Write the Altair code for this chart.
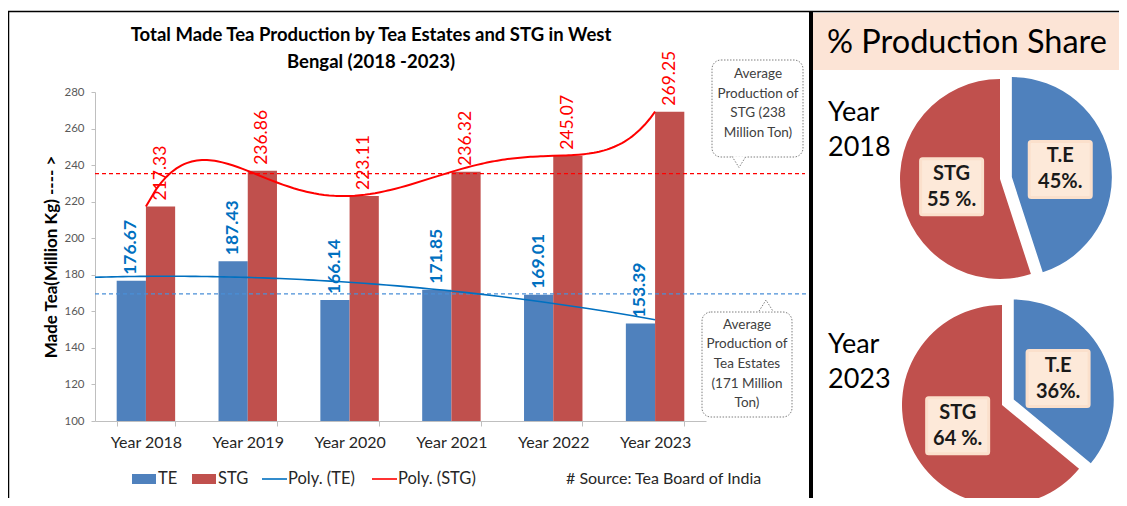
import math
import altair as alt
import pandas as pd

# ---------------- data ----------------
years = ["Year 2018", "Year 2019", "Year 2020", "Year 2021", "Year 2022", "Year 2023"]
te_values = [176.67, 187.43, 166.14, 171.85, 169.01, 153.39]
stg_values = [217.33, 236.86, 223.11, 236.32, 245.07, 269.25]
series_names = ["TE", "STG"]
avg_te_line = 169.6
avg_stg_line = 235.3
y_ticks = [100, 120, 140, 160, 180, 200, 220, 240, 260, 280]
legend_names = ["TE", "STG", "Poly. (TE)", "Poly. (STG)"]
source_note = "# Source: Tea Board of India"
chart_title = ["Total Made Tea Production  by Tea Estates and STG in West", "Bengal (2018 -2023)"]
y_title = "Made Tea(Million Kg) ---- >"
callout_stg = ["Average", "Production of", "STG (238", "Million Ton)"]
callout_te = ["Average", "Production of", "Tea Estates", "(171 Million", "Ton)"]
share_title = "% Production Share"
pie_year_labels = [["Year", "2018"], ["Year", "2023"]]
pie_parts = ["T.E", "STG"]
share_2018 = [45, 55]
share_2023 = [36, 64]
pie_labels_2018 = [["T.E", "45%."], ["STG", "55 %."]]
pie_labels_2023 = [["T.E", "36%."], ["STG", "64 %."]]

# ---------------- style / layout ----------------
FONT = "Lato"
BLUE = "#4F81BD"
RED = "#C0504D"
LBLUE = "#0070C0"
LRED = "#FF0000"
PEACH = "#FCE4D6"
OX, OY = 95, 92          # page position of the plot origin
W, H = 611, 329


def px(x):
    return x - OX


def py(y):
    return y - OY


one = pd.DataFrame({"k": [0]})

# ---------------- bar chart ----------------
df_bars = pd.DataFrame({
    "year": years * 2,
    "series": ["TE"] * len(years) + ["STG"] * len(years),
    "value": te_values + stg_values,
})

x_enc = alt.X(
    "year:N", sort=years,
    scale=alt.Scale(paddingInner=0.426, paddingOuter=0.213),
    axis=alt.Axis(title=None, labelAngle=0, labelFont=FONT, labelFontSize=16,
                  labelColor="#262626", labelPadding=8, tickBand="extent",
                  tickSize=5, tickColor="#bfbfbf", domainColor="#bfbfbf"),
)
xoff = alt.XOffset("series:N", sort=series_names,
                   scale=alt.Scale(paddingInner=0, paddingOuter=0))
y_scale = alt.Scale(domain=[100, 280], nice=False, zero=False)
y_enc = alt.Y(
    "value:Q", scale=y_scale,
    axis=alt.Axis(values=y_ticks, title=y_title, titleFont=FONT, titleFontSize=17,
                  titleFontWeight="bold", titleColor="black", titlePadding=3,
                  labelFont=FONT, labelFontSize=11.5, labelColor="#595959",
                  tickSize=4, tickColor="#bfbfbf", domainColor="#bfbfbf",
                  grid=False, labelPadding=7),
)

bars = alt.Chart(df_bars).mark_bar().encode(
    x=x_enc, xOffset=xoff, y=y_enc, y2=alt.datum(100),
    color=alt.Color("series:N", scale=alt.Scale(domain=series_names, range=[BLUE, RED]), legend=None),
)

te_lab = alt.Chart(df_bars).transform_filter(alt.datum.series == "TE").mark_text(
    angle=270, align="left", baseline="middle", dx=6, font=FONT, fontSize=17.5,
    fontWeight="bold", color=LBLUE,
).encode(x=x_enc, xOffset=xoff, y=y_enc, text=alt.Text("value:Q", format=".2f"))

stg_lab = alt.Chart(df_bars).transform_filter(alt.datum.series == "STG").mark_text(
    angle=270, align="left", baseline="middle", dx=6, font=FONT, fontSize=17.5,
    color=LRED,
).encode(x=x_enc, xOffset=xoff, y=y_enc, text=alt.Text("value:Q", format=".2f"))

df_avg = pd.DataFrame({"series": ["TE", "STG"], "value": [avg_te_line, avg_stg_line]})
avg_te_rule = alt.Chart(df_avg).transform_filter(alt.datum.series == "TE").mark_rule(
    color="#4A8FD8", strokeDash=[4, 3], strokeWidth=1.2
).encode(y=y_enc, x=alt.value(0), x2=alt.value(px(810)))
avg_stg_rule = alt.Chart(df_avg).transform_filter(alt.datum.series == "STG").mark_rule(
    color=LRED, strokeDash=[4, 3], strokeWidth=1.2
).encode(y=y_enc, x=alt.value(0), x2=alt.value(px(805)))

main = alt.layer(bars, avg_te_rule, avg_stg_rule, te_lab, stg_lab)

# ---------------- polynomial trend lines ----------------
df_idx = pd.DataFrame({"idx": list(range(1, len(years) + 1)), "TE": te_values, "STG": stg_values})
xq = alt.X("idx:Q", scale=alt.Scale(domain=[0.5, len(years) + 0.5], nice=False, zero=False), axis=None)
te_trend = alt.Chart(df_idx).transform_regression(
    "idx", "TE", method="poly", order=2, extent=[0.5, len(years)]
).mark_line(color=LBLUE, strokeWidth=1.6).encode(
    x=xq, y=alt.Y("TE:Q", scale=y_scale, axis=None))
stg_trend = alt.Chart(df_idx).transform_regression(
    "idx", "STG", method="poly", order=5, extent=[1, len(years)]
).mark_line(color=LRED, strokeWidth=2).encode(
    x=xq, y=alt.Y("STG:Q", scale=y_scale, axis=None))
trend = alt.layer(te_trend, stg_trend)

# ---------------- decorations ----------------
decor = []

# frames
decor.append(alt.Chart(one).mark_rule(color="black", strokeWidth=1.5).encode(
    x=alt.value(px(8.5)), y=alt.value(py(11)), y2=alt.value(py(506))))
decor.append(alt.Chart(one).mark_rule(color="black", strokeWidth=1.5).encode(
    x=alt.value(px(8)), x2=alt.value(px(1127)), y=alt.value(py(11.5))))
decor.append(alt.Chart(one).mark_rect(color=PEACH).encode(
    x=alt.value(px(813)), x2=alt.value(px(1127)), y=alt.value(py(13)), y2=alt.value(py(70))))
decor.append(alt.Chart(one).mark_rule(color="black", strokeWidth=4).encode(
    x=alt.value(px(811)), y=alt.value(py(11)), y2=alt.value(py(506))))


def text_block(lines, x, y, size, lh, weight="normal", color="black", align="center"):
    """Multi-line text whose block is vertically centred on y."""
    first = y - (len(lines) - 1) * lh / 2.0
    return alt.Chart(pd.DataFrame({"t": ["\n".join(lines)]})).mark_text(
        lineBreak="\n", lineHeight=lh, font=FONT, fontSize=size, fontWeight=weight,
        color=color, align=align, baseline="middle",
    ).encode(x=alt.value(px(x)), y=alt.value(py(first)), text="t:N")


# title
decor.append(text_block(chart_title, 371, 48.5, 18.5, 27, weight="bold"))

# callouts
def callout(x0, y0, x1, y1, tip_x, tip_y, lines, tx, ty):
    box = alt.Chart(one).mark_rect(
        fill="white", stroke="#7f7f7f", strokeWidth=1, strokeDash=[1.5, 1.5], cornerRadius=9
    ).encode(x=alt.value(px(x0)), x2=alt.value(px(x1)), y=alt.value(py(y0)), y2=alt.value(py(y1)))
    down = tip_y > y1
    base_y = y1 if down else y0
    path = "M-1,-0.8L0,0.8L1,-0.8" if down else "M-1,0.8L0,-0.8L1,0.8"
    ptr = alt.Chart(one).mark_point(
        shape=path, filled=True, fill="white", stroke="#7f7f7f", strokeWidth=1,
        strokeDash=[1.5, 1.5], size=196, opacity=1
    ).encode(x=alt.value(px(tip_x)), y=alt.value(py((base_y + tip_y) / 2 - (0.6 if down else -0.6))))
    txt = text_block(lines, tx, ty, 13.5, 19.7, color="#404040")
    return [box, ptr, txt]


decor += callout(712, 60, 803, 157, 739, 168, callout_stg, 758, 103.5)
decor += callout(702, 312, 792, 417, 766, 298, callout_te, 747, 364)

# legend
leg_x0 = [132, 192, 262, 372]
leg_colors = [BLUE, RED, LBLUE, LRED]
LEG_Y = 479
for i, name in enumerate(legend_names):
    if i < 2:
        decor.append(alt.Chart(one).mark_rect(color=leg_colors[i]).encode(
            x=alt.value(px(leg_x0[i])), x2=alt.value(px(leg_x0[i] + 24)),
            y=alt.value(py(LEG_Y - 5)), y2=alt.value(py(LEG_Y + 5))))
    else:
        decor.append(alt.Chart(one).mark_rule(color=leg_colors[i], strokeWidth=1.6).encode(
            x=alt.value(px(leg_x0[i])), x2=alt.value(px(leg_x0[i] + 25)), y=alt.value(py(LEG_Y))))
    decor.append(alt.Chart(pd.DataFrame({"t": [name]})).mark_text(
        font=FONT, fontSize=16.5, align="left", baseline="middle", color="#262626"
    ).encode(x=alt.value(px(leg_x0[i] + 26)), y=alt.value(py(LEG_Y)), text="t:N"))
decor.append(alt.Chart(pd.DataFrame({"t": [source_note]})).mark_text(
    font=FONT, fontSize=16, align="left", baseline="middle", color="#262626"
).encode(x=alt.value(px(566)), y=alt.value(py(LEG_Y)), text="t:N"))

# right panel texts
decor.append(alt.Chart(pd.DataFrame({"t": [share_title]})).mark_text(
    font=FONT, fontSize=32.5, align="left", baseline="middle", color="black"
).encode(x=alt.value(px(827)), y=alt.value(py(43)), text="t:N"))
decor.append(text_block(pie_year_labels[0], 828, 130.5, 27, 35, align="left"))
decor.append(text_block(pie_year_labels[1], 828, 362.5, 27, 35, align="left"))

# pies
theta_scale = alt.Scale(domain=[0, 100], range=[0, 2 * math.pi])
PIE_LH = 26


def pie(shares, labels, cx, cy, explode, r=100, lr=49):
    df = pd.DataFrame({"part": pie_parts, "share": shares,
                       "label": ["\n".join(l) for l in labels], "order": [0, 1]})
    ang = math.pi * shares[0] / 100.0
    dx, dy = explode * math.sin(ang), -explode * math.cos(ang)
    base = alt.Chart(df).transform_window(
        t1="sum(share)", sort=[alt.SortField("order")], frame=[None, 0]
    ).transform_calculate(t0="datum.t1 - datum.share", mid="(datum.t0 + datum.t1) / 2")
    layers = []
    for part, col, ox, oy in [("T.E", BLUE, dx, dy), ("STG", RED, 0, 0)]:
        layers.append(base.transform_filter(alt.datum.part == part).mark_arc(radius=r, color=col).encode(
            theta=alt.Theta("t0:Q", scale=theta_scale, stack=None), theta2="t1:Q",
            x=alt.value(px(cx + ox)), y=alt.value(py(cy + oy))))
    lab = base.transform_calculate(
        ang="datum.mid / 100 * 2 * PI",
        lx=f"{px(cx)} + (datum.part == 'T.E' ? {dx} : 0) + {lr} * sin(datum.ang)",
        ly=f"{py(cy)} + (datum.part == 'T.E' ? {dy} : 0) - {lr} * cos(datum.ang)",
    ).transform_calculate(bx0="datum.lx - 31", bx1="datum.lx + 31",
                          by0="datum.ly - 28", by1="datum.ly + 28")
    layers.append(lab.mark_rect(fill="#FDE9D9", stroke="#FBE0CC", strokeWidth=3, cornerRadius=2).encode(
        x=alt.X("bx0:Q", scale=None), x2="bx1:Q", y=alt.Y("by0:Q", scale=None), y2="by1:Q"))
    layers.append(lab.mark_text(lineBreak="\n", lineHeight=PIE_LH, font=FONT, fontSize=20,
                                fontWeight="bold", color="#1a1a1a", baseline="middle",
                                dy=-PIE_LH / 2).encode(
        x=alt.X("lx:Q", scale=None), y=alt.Y("ly:Q", scale=None), text="label:N"))
    return layers


decor += pie(share_2018, pie_labels_2018, 1000, 179, 12)
decor += pie(share_2023, pie_labels_2023, 1002, 405, 13)

chart = alt.layer(main, trend, *decor).resolve_scale(
    x="independent", y="independent"
).properties(
    width=W, height=H,
    padding={"left": OX - 8, "top": OY - 8, "right": 1111 - (OX - 8) - W, "bottom": 490 - (OY - 8) - H},
    autosize=alt.AutoSizeParams(type="none"),
    background="white",
).configure_view(stroke=None)

chart.save("out.html", embed_options={"renderer": "svg", "actions": False})
